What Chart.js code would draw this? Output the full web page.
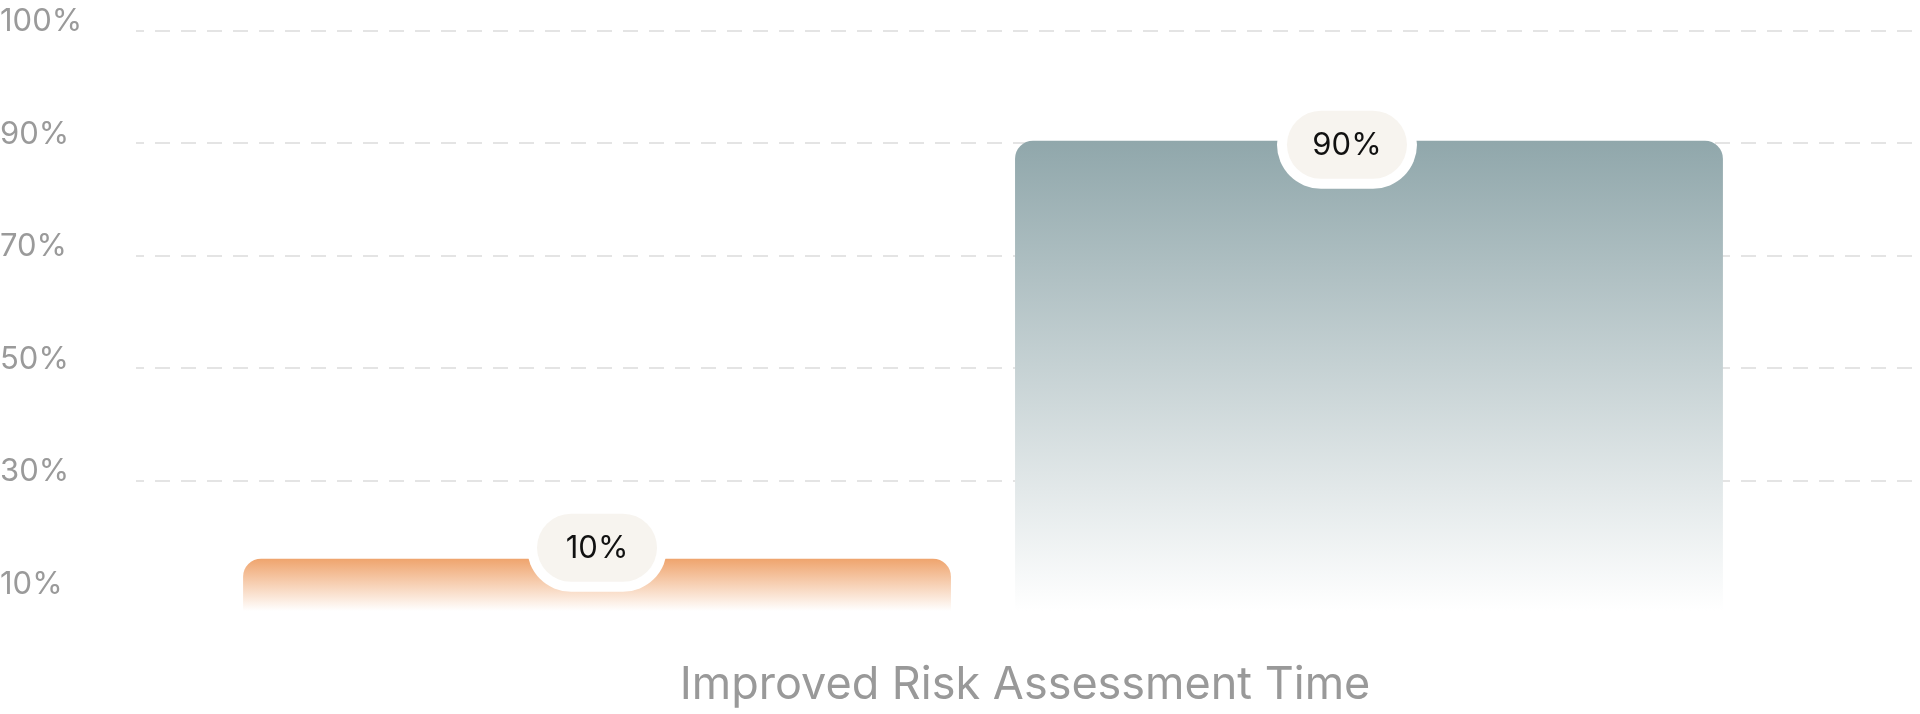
<!DOCTYPE html>
<html lang="en">
<head>
    <meta charset="UTF-8">
    <title>Improved Risk Assessment Time</title>
    <script src="https://cdn.jsdelivr.net/npm/chart.js"></script>
    <style>
        body {
            margin: 0;
            padding: 0;
            background: #ffffff;
            overflow: hidden;
        }
        canvas {
            display: block;
        }
    </style>
</head>
<body>
    <canvas id="myChart" width="1920" height="714"></canvas>

    <script>
        // data
        const categories = ['Improved Risk Assessment Time'];
        const seriesNames = ['Before', 'After'];
        const seriesValues = [[10], [90]];
        const yTickLabels = ['100%', '90%', '70%', '50%', '30%', '10%'];

        // styles
        const barTopColors = ['#efa46d', '#90a7ab'];
        const yMax = 111;
        const yTickStep = 21.53;
        const badgeOffsets = [{ dx: 0, dy: -11 }, { dx: -22, dy: 4 }];

        function barGradient(index) {
            return function (ctx) {
                const chart = ctx.chart;
                if (!chart.chartArea) return barTopColors[index];
                const y = chart.scales.y;
                const top = y.getPixelForValue(ctx.raw);
                const bottom = y.getPixelForValue(0);
                const g = chart.ctx.createLinearGradient(0, top, 0, bottom);
                g.addColorStop(0, barTopColors[index]);
                g.addColorStop(1, 'rgba(255,255,255,1)');
                return g;
            };
        }

        // dashed grid that runs past the chart area to the right edge
        const wideGrid = {
            id: 'wideGrid',
            beforeDatasetsDraw(chart) {
                const ctx = chart.ctx;
                const y = chart.scales.y;
                ctx.save();
                ctx.strokeStyle = '#e4e4e4';
                ctx.lineWidth = 2;
                ctx.setLineDash([15, 11]);
                ctx.lineDashOffset = 7;
                y.ticks.forEach((t, i) => {
                    if (i === y.ticks.length - 1) return;
                    const py = Math.round(y.getPixelForValue(t.value));
                    ctx.beginPath();
                    ctx.moveTo(chart.chartArea.left, py);
                    ctx.lineTo(chart.width, py);
                    ctx.stroke();
                });
                ctx.restore();
            }
        };

        // value badges sitting on the bar tops
        const badges = {
            id: 'badges',
            afterDatasetsDraw(chart) {
                const ctx = chart.ctx;
                chart.data.datasets.forEach((ds, i) => {
                    const meta = chart.getDatasetMeta(i);
                    meta.data.forEach((bar, j) => {
                        const cx = bar.x + badgeOffsets[i].dx;
                        const cy = bar.y + badgeOffsets[i].dy;
                        ctx.save();
                        ctx.fillStyle = '#ffffff';
                        ctx.beginPath();
                        ctx.roundRect(cx - 70, cy - 44, 140, 88, 44);
                        ctx.fill();
                        ctx.fillStyle = '#f7f4ef';
                        ctx.beginPath();
                        ctx.roundRect(cx - 60, cy - 34, 120, 68, 34);
                        ctx.fill();
                        ctx.fillStyle = '#111111';
                        ctx.font = '31px Inter';
                        ctx.textAlign = 'center';
                        ctx.textBaseline = 'middle';
                        ctx.fillText(ds.data[j] + '%', cx, cy + 1);
                        ctx.restore();
                    });
                });
            }
        };

        const ctx = document.getElementById('myChart').getContext('2d');
        new Chart(ctx, {
            type: 'bar',
            data: {
                labels: categories,
                datasets: seriesNames.map((name, i) => ({
                    label: name,
                    data: seriesValues[i],
                    backgroundColor: barGradient(i),
                    borderRadius: 18,
                    borderSkipped: 'bottom',
                    categoryPercentage: 0.9114,
                    barPercentage: 0.917
                }))
            },
            options: {
                responsive: false,
                animation: false,
                layout: {
                    padding: { left: 0, right: 90, top: 31, bottom: 0 }
                },
                plugins: {
                    legend: { display: false },
                    tooltip: { enabled: false }
                },
                scales: {
                    x: {
                        grid: { display: false, drawTicks: false },
                        border: { display: false },
                        ticks: {
                            color: '#999999',
                            font: { family: 'Inter', size: 45 },
                            padding: 47,
                            labelOffset: 42
                        },
                        afterFit(scale) {
                            scale.height = 103;
                        }
                    },
                    y: {
                        min: 0,
                        max: yMax,
                        grid: { display: false, drawTicks: false },
                        border: { display: false },
                        afterBuildTicks(scale) {
                            scale.ticks = yTickLabels.map((l, i) => ({ value: yMax - i * yTickStep }));
                        },
                        afterFit(scale) {
                            scale.width = 136;
                        },
                        ticks: {
                            color: '#9a9a9a',
                            font: { family: 'Inter', size: 31 },
                            crossAlign: 'far',
                            labelOffset: -9,
                            callback: (value, index) => yTickLabels[index]
                        }
                    }
                }
            },
            plugins: [wideGrid, badges]
        });
    </script>
</body>
</html>
